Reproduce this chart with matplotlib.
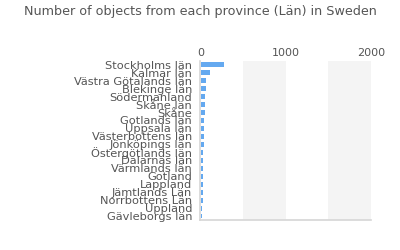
import matplotlib
matplotlib.use("Agg")
import matplotlib.pyplot as plt

provinces = ["Stockholms län", "Kalmar län", "Västra Götalands län", "Blekinge län",
             "Södermanland", "Skåne län", "Skåne", "Gotlands län", "Uppsala län",
             "Västerbottens län", "Jönköpings län", "Östergötlands län", "Dalarnas län",
             "Värmlands län", "Gotland", "Lappland", "Jämtlands Län", "Norrbottens Län",
             "Uppland", "Gävleborgs län"]
counts = [270, 105, 58, 56, 46, 45, 44, 36, 35, 34, 27, 26, 25, 24, 23, 22, 21, 20, 14, 10]
xticks = [0, 1000, 2000]

fig = plt.figure(figsize=(4, 2.5), dpi=100)
ax = fig.add_axes([0.501, 0.12, 0.426, 0.637])

ax.axvspan(500, 1000, color="#f4f4f4", zorder=0, lw=0)
ax.axvspan(1500, 2000, color="#f4f4f4", zorder=0, lw=0)

y = list(range(len(provinces)))
ax.barh(y, counts, height=0.62, color="#64a9f0", zorder=2, left=10)
ax.set_xlim(0, 2000)
ax.set_ylim(len(provinces) - 0.5, -0.5)
ax.set_yticks(y)
ax.set_yticklabels(provinces, fontsize=8.2, color="#555555")
ax.set_xticks(xticks)
ax.set_xticklabels([str(t) for t in xticks], fontsize=8, color="#555555")
ax.xaxis.tick_top()
ax.tick_params(axis="both", length=0, pad=2)
ax.tick_params(axis="y", pad=6)
for s in ["right", "top"]:
    ax.spines[s].set_visible(False)
for s in ["left", "bottom"]:
    ax.spines[s].set_color("#d6d6d6")
    ax.spines[s].set_linewidth(1.2)

fig.text(0.5, 0.952, "Number of objects from each province (Län) in Sweden",
         ha="center", va="center", fontsize=9.2, color="#555555")

fig.savefig("out.png", dpi=100)
